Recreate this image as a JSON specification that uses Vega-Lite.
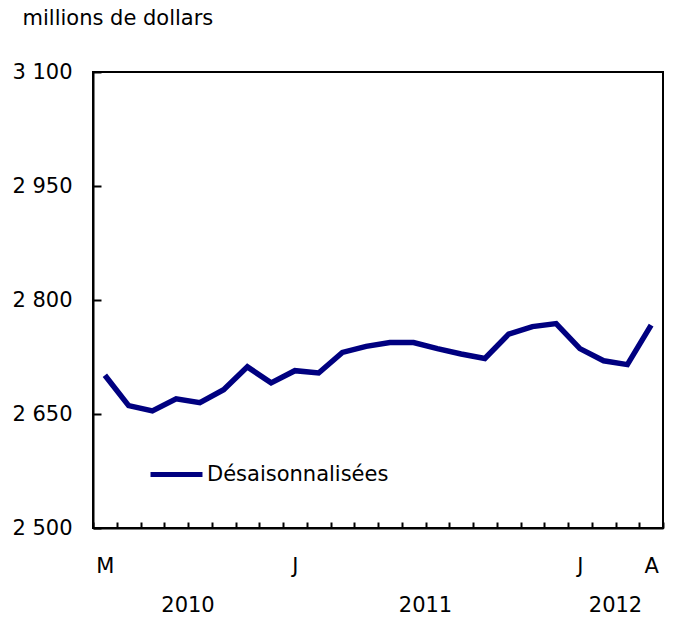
{
  "$schema": "https://vega.github.io/schema/vega-lite/v6.json",
  "width": 570,
  "height": 456,
  "autosize": "none",
  "padding": {"left": 93, "top": 72, "right": 12, "bottom": 95},
  "config": {
    "font": "DejaVu Sans",
    "view": {"stroke": "black", "strokeWidth": 2},
    "axis": {"grid": false, "domainColor": "black", "domainWidth": 2, "tickColor": "black", "tickWidth": 2, "labelColor": "black", "labelFontSize": 21, "labelFont": "DejaVu Sans"}
  },
  "data": {
    "values": [
      {"mois": "2010-05", "valeur": 2701},
      {"mois": "2010-06", "valeur": 2661},
      {"mois": "2010-07", "valeur": 2654},
      {"mois": "2010-08", "valeur": 2670},
      {"mois": "2010-09", "valeur": 2665},
      {"mois": "2010-10", "valeur": 2682},
      {"mois": "2010-11", "valeur": 2712},
      {"mois": "2010-12", "valeur": 2691},
      {"mois": "2011-01", "valeur": 2707},
      {"mois": "2011-02", "valeur": 2704},
      {"mois": "2011-03", "valeur": 2731},
      {"mois": "2011-04", "valeur": 2739},
      {"mois": "2011-05", "valeur": 2744},
      {"mois": "2011-06", "valeur": 2744},
      {"mois": "2011-07", "valeur": 2736},
      {"mois": "2011-08", "valeur": 2729},
      {"mois": "2011-09", "valeur": 2723},
      {"mois": "2011-10", "valeur": 2755},
      {"mois": "2011-11", "valeur": 2765},
      {"mois": "2011-12", "valeur": 2769},
      {"mois": "2012-01", "valeur": 2736},
      {"mois": "2012-02", "valeur": 2720},
      {"mois": "2012-03", "valeur": 2715},
      {"mois": "2012-04", "valeur": 2767}
    ]
  },
  "layer": [
    {
      "mark": {"type": "line", "strokeWidth": 5.5},
      "encoding": {
        "x": {
          "field": "mois",
          "type": "ordinal",
          "scale": {"paddingInner": 0, "paddingOuter": 0},
          "axis": {
            "title": null,
            "tickBand": "extent",
            "tickSize": -6,
            "labelAngle": 0,
            "labelOverlap": false,
            "labelPadding": 33,
            "labelExpr": "datum.value == '2010-05' ? 'M' : datum.value == '2011-01' ? 'J' : datum.value == '2012-01' ? 'J' : datum.value == '2012-04' ? 'A' : ''"
          }
        },
        "y": {
          "field": "valeur",
          "type": "quantitative",
          "scale": {"domain": [2500, 3100], "nice": false, "zero": false},
          "axis": {
            "values": [2500, 2650, 2800, 2950, 3100],
            "tickSize": -8,
            "labelPadding": 29,
            "labelExpr": "replace(format(datum.value, ',d'), ',', ' ')",
            "title": "millions de dollars",
            "titleAngle": 0,
            "titleX": -71,
            "titleY": -54,
            "titleAlign": "left",
            "titleBaseline": "middle",
            "titleFontSize": 21,
            "titleFontWeight": "normal",
            "titleColor": "black",
            "titleFont": "DejaVu Sans"
          }
        },
        "color": {
          "datum": "Désaisonnalisées",
          "scale": {"range": ["#000080"]},
          "legend": {
            "title": null,
            "orient": "none",
            "legendX": 55,
            "legendY": 374,
            "symbolType": "stroke",
            "symbolSize": 2700,
            "symbolStrokeWidth": 5,
            "labelFontSize": 21,
            "labelColor": "black",
            "labelOffset": 2,
            "labelLimit": 400,
            "labelFont": "DejaVu Sans"
          }
        }
      }
    },
    {
      "data": {
        "values": [
          {"annee": "2010", "pos": "2010-09"},
          {"annee": "2011", "pos": "2011-07"},
          {"annee": "2012", "pos": "2012-03"}
        ]
      },
      "mark": {"type": "text", "dy": 78, "fontSize": 21, "color": "black", "baseline": "middle", "align": "center"},
      "encoding": {
        "x": {"field": "pos", "type": "ordinal", "bandPosition": 0},
        "y": {"datum": 2500},
        "text": {"field": "annee"}
      }
    }
  ]
}
